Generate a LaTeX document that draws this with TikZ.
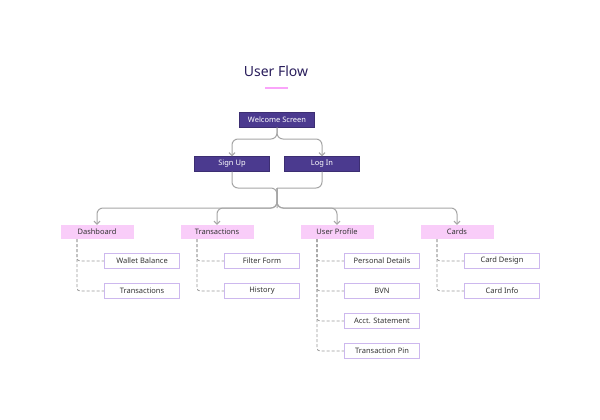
\documentclass[tikz,border=0pt]{standalone}
\usepackage{fontspec}
\setmainfont{Noto Sans}
\usetikzlibrary{arrows.meta}
\definecolor{dp}{HTML}{4B3A8F}
\definecolor{pk}{HTML}{F9CDF9}
\definecolor{lv}{HTML}{CDB8EE}
\definecolor{ttl}{HTML}{2A1E5C}
\begin{document}
\begin{tikzpicture}[x=1pt,y=-1pt,
 top/.style={draw=dp!80!black,fill=dp,text=white,minimum width=75pt,minimum height=15pt,inner sep=0pt,font=\fontsize{7.5}{8}\selectfont},
 sec/.style={fill=pk,text=black!80,minimum width=73pt,minimum height=14pt,inner sep=0pt,font=\fontsize{7.5}{8}\selectfont},
 ch/.style={draw=lv,line width=1.2pt,fill=white,text=black!80,minimum width=75pt,minimum height=15pt,inner sep=0pt,font=\fontsize{7.5}{8}\selectfont},
 con/.style={draw=black!35,line width=1pt,rounded corners=6pt,-{Straight Barb[length=3pt,width=6pt]}},
 dsh/.style={draw=black!40,line width=0.8pt,dash pattern=on 3pt off 2pt,rounded corners=3pt}]
\useasboundingbox (0,0) rectangle (600,420);
\fill[white] (0,0) rectangle (600,420);
\node[text=ttl,font=\bfseries\fontsize{14}{16}\selectfont] (title) at (276,71) {User Flow};
\draw[pk!80!magenta,line width=2pt] (265,88) -- (288,88);
\node[top] (w) at (277,120) {Welcome Screen};
\node[top] (s) at (232,164) {Sign Up};
\node[top] (l) at (322,164) {Log In};
\coordinate (wj) at (277,139);
\draw[con] (w.south) -- (wj) -| (s.north);
\draw[con] (w.south) -- (wj) -| (l.north);
\node[sec] (d) at (97,232) {Dashboard};
\node[sec] (t) at (217,232) {Transactions};
\node[sec] (u) at (337,232) {User Profile};
\node[sec] (c) at (457,232) {Cards};
\coordinate (m) at (277,188);
\coordinate (mj) at (277,208);
\draw[draw=black!35,line width=1pt,rounded corners=6pt] (s.south) |- (m) -- (mj);
\draw[draw=black!35,line width=1pt,rounded corners=6pt] (l.south) |- (m);
\foreach \n in {d,t,u,c} \draw[con] (m) -- (mj) -| (\n.north);
\foreach \p/\x/\items in {d/142/{Wallet Balance,Transactions},t/262/{Filter Form,History},u/382/{Personal Details,BVN,Acct. Statement,Transaction Pin},c/502/{Card Design,Card Info}}{
  \foreach \it [count=\i] in \items {
    \node[ch] (\p\i) at (\x,{231+30*\i}) {\it};
    \draw[dsh] ([xshift=-20pt]\p.south) |- (\p\i.west);
  }
}
\end{tikzpicture}
\end{document}
